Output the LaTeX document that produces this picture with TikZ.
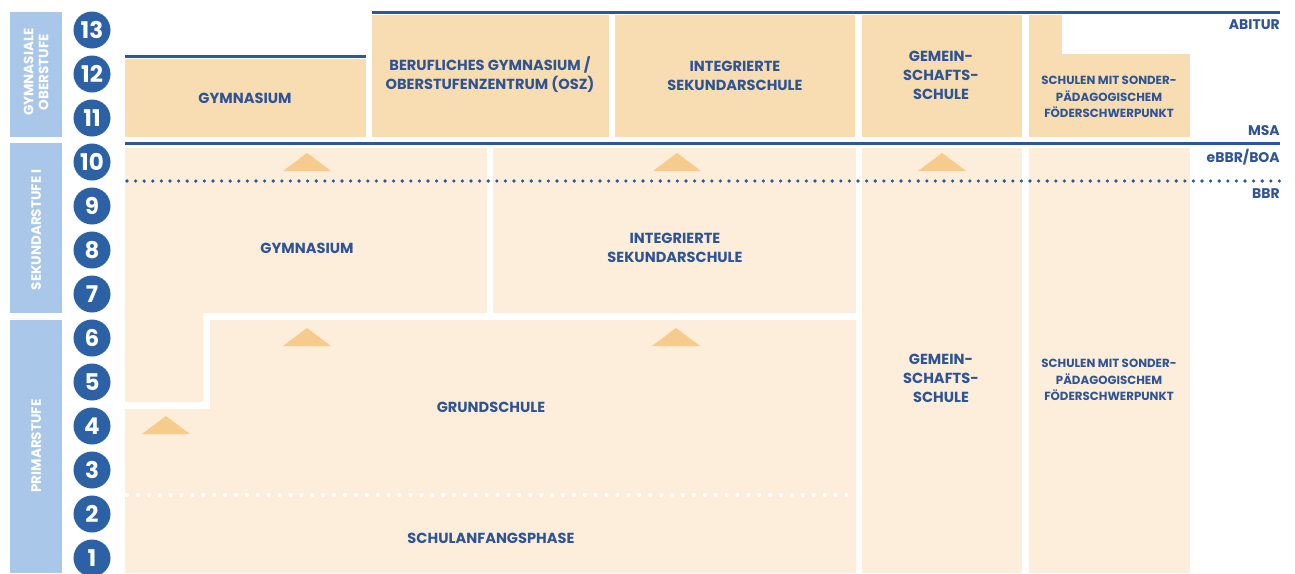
\documentclass[tikz,border=0pt]{standalone}
\usepackage{fontspec}
\setmainfont{Poppins}
\definecolor{barblue}{HTML}{A9C7E8}
\definecolor{circblue}{HTML}{2C62A5}
\definecolor{lineblue}{HTML}{2D5896}
\definecolor{txtblue}{HTML}{2F5494}
\definecolor{peach}{HTML}{F9DDB2}
\definecolor{cream}{HTML}{FDEEDC}
\definecolor{tri}{HTML}{F6CB8C}
\tikzset{
  lbl/.style={text=txtblue, font=\bfseries\fontsize{14.6}{19}\selectfont, align=center, inner sep=0pt},
  slbl/.style={text=txtblue, font=\bfseries\fontsize{11.8}{16.5}\selectfont, align=center, inner sep=0pt},
  rlbl/.style={text=txtblue, font=\bfseries\fontsize{14}{15}\selectfont, anchor=east, inner sep=0pt},
  barlbl/.style={text=white, font=\bfseries\fontsize{13.5}{15}\selectfont, rotate=90, align=center, inner sep=0pt},
  grade/.style={circle, fill=circblue, minimum size=37pt, inner sep=0pt, text=white, font=\bfseries\fontsize{23}{23}\selectfont},
  bline/.style={draw=lineblue, line width=2.6pt},
}
\begin{document}
\begin{tikzpicture}[x=1pt,y=-1pt]
\useasboundingbox (0,0) rectangle (1295,573);
\fill[white] (0,0) rectangle (1295,573);
% left bars
\fill[barblue] (10,12) rectangle (62,137);
\fill[barblue] (10,143) rectangle (62,313);
\fill[barblue] (10,320) rectangle (62,573);
\node[barlbl] (bgo) at (36,72) {GYMNASIALE\\OBERSTUFE};
\node[barlbl] (bsek) at (36,230) {SEKUNDARSTUFE I};
\node[barlbl] (bprim) at (36,446) {PRIMARSTUFE};
% grade circles
\foreach \k in {1,...,13} {
  \node[grade] (g\k) at (92,{30+(13-\k)*44}) {\k};
}
% upper boxes
\fill[peach] (125,59) rectangle (366,137);
\fill[peach] (372,15) rectangle (609,137);
\fill[peach] (615,15) rectangle (855,137);
\fill[peach] (862,15) rectangle (1022,137);
\fill[peach] (1029,54) rectangle (1190,137);
\fill[peach] (1029,15) rectangle (1062,54);
% lower boxes
\fill[cream] (125,148) -- (487,148) -- (487,313) -- (203,313) -- (203,402) -- (125,402) -- cycle;
\fill[cream] (210,320) -- (856,320) -- (856,573) -- (125,573) -- (125,409) -- (210,409) -- cycle;
\fill[cream] (493,148) rectangle (856,313);
\fill[cream] (862,148) rectangle (1022,573);
\fill[cream] (1029,148) rectangle (1190,573);
% lines
\draw[bline] (125,56.5) -- (366,56.5);
\draw[bline] (372,12.5) -- (1280,12.5);
\draw[bline] (125,143.5) -- (1280,143.5);
\draw[draw=lineblue, line width=3.6pt, line cap=round, dash pattern=on 0pt off 8.6pt] (127,181) -- (1280,181);
\draw[draw=white, line width=4pt, line cap=round, dash pattern=on 0pt off 10.9pt] (127,495) -- (856,495);
% triangles
\foreach \cx/\by in {307/171, 677/171, 942/171, 307/346, 676/346, 166/434} {
  \fill[tri] (\cx-24,\by) -- (\cx,\by-18) -- (\cx+24,\by) -- cycle;
}
% labels upper
\node[lbl] (ugym) at (245,98) {GYMNASIUM};
\node[lbl] (uberuf) at (490,75) {BERUFLICHES GYMNASIUM /\\OBERSTUFENZENTRUM (OSZ)};
\node[lbl] (uiss) at (735,76) {INTEGRIERTE\\SEKUNDARSCHULE};
\node[lbl] (ugem) at (941,75) {GEMEIN-\\SCHAFTS-\\SCHULE};
\node[slbl] (uson) at (1109,97) {SCHULEN MIT SONDER-\\PÄDAGOGISCHEM\\FÖDERSCHWERPUNKT};
% labels lower
\node[lbl] (lgym) at (307,248) {GYMNASIUM};
\node[lbl] (liss) at (675,248) {INTEGRIERTE\\SEKUNDARSCHULE};
\node[lbl] (lgs) at (491,407) {GRUNDSCHULE};
\node[lbl] (lsap) at (491,538) {SCHULANFANGSPHASE};
\node[lbl] (lgem) at (941,378) {GEMEIN-\\SCHAFTS-\\SCHULE};
\node[slbl] (lson) at (1109,380) {SCHULEN MIT SONDER-\\PÄDAGOGISCHEM\\FÖDERSCHWERPUNKT};
% right labels
\node[rlbl] (abi) at (1280,25) {ABITUR};
\node[rlbl] (msa) at (1280,131) {MSA};
\node[rlbl] (ebbr) at (1280,157) {eBBR/BOA};
\node[rlbl] (bbr) at (1280,194) {BBR};
\end{tikzpicture}
\end{document}
